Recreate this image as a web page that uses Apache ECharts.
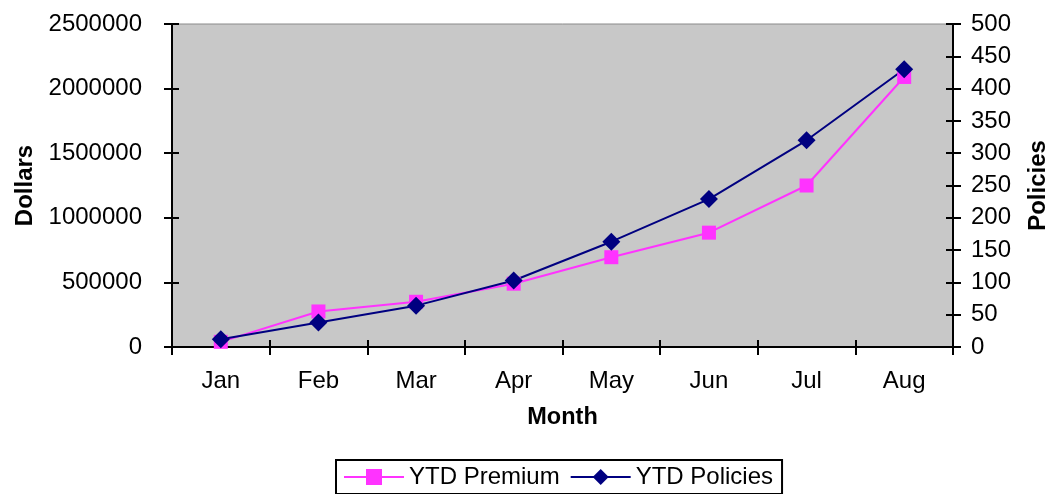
<!DOCTYPE html>
<html>
<head>
<meta charset="utf-8">
<script src="https://cdn.jsdelivr.net/npm/echarts@6/dist/echarts.min.js"></script>
<style>
html,body{margin:0;padding:0;background:#fff;}
#c{width:1061px;height:494px;}
</style>
</head>
<body>
<div id="c"></div>
<script>
const months = ['Jan','Feb','Mar','Apr','May','Jun','Jul','Aug'];
const ytdPremium = [40000, 275000, 350000, 490000, 695000, 885000, 1250000, 2090000];
const ytdPolicies = [12, 38, 64, 103, 163, 229, 320, 430];
const dollarTicks = {min: 0, max: 2500000, interval: 500000};
const policyTicks = {min: 0, max: 500, interval: 50};

const FONT = 'Arial, "Liberation Sans", sans-serif';
const chart = echarts.init(document.getElementById('c'), null, {renderer: 'canvas'});

function hiddenAxisBits() {
  return {axisLine: {show: false}, axisLabel: {show: false}, splitLine: {show: false}};
}
const plain = v => String(v);

chart.setOption({
  animation: false,
  backgroundColor: '#ffffff',
  textStyle: {fontFamily: FONT, color: '#000'},
  grid: {
    left: 172, right: 108, top: 24, bottom: 147,
    show: true, backgroundColor: '#C8C8C8', borderColor: '#8a8a8a', borderWidth: 1
  },
  legend: {
    left: 336, top: 460,
    padding: [5, 9, 5, 7],
    borderColor: '#000', borderWidth: 2,
    itemWidth: 60, itemHeight: 20, itemGap: 10,
    textStyle: {fontFamily: FONT, fontSize: 24, color: '#000'},
    data: ['YTD Premium', 'YTD Policies']
  },
  xAxis: [{
    type: 'category', data: months, boundaryGap: true,
    name: 'Month', nameLocation: 'middle', nameGap: 59,
    nameTextStyle: {fontFamily: FONT, fontSize: 23.5, fontWeight: 'bold', color: '#000'},
    axisLine: {lineStyle: {color: '#000', width: 2}},
    axisTick: {show: true, length: 8, lineStyle: {color: '#000', width: 2}},
    axisLabel: {fontFamily: FONT, fontSize: 24, color: '#000', margin: 22},
    splitLine: {show: false}
  }, Object.assign({
    type: 'category', data: months, boundaryGap: true, position: 'bottom',
    axisTick: {show: true, inside: true, length: 7, lineStyle: {color: '#000', width: 2}}
  }, hiddenAxisBits())],
  yAxis: [{
    type: 'value', position: 'left',
    min: dollarTicks.min, max: dollarTicks.max, interval: dollarTicks.interval,
    name: 'Dollars', nameLocation: 'middle', nameRotate: 90, nameGap: 133,
    nameTextStyle: {fontFamily: FONT, fontSize: 24, fontWeight: 'bold', color: '#000'},
    axisLine: {show: true, lineStyle: {color: '#000', width: 2}},
    axisTick: {show: true, length: 8, lineStyle: {color: '#000', width: 2}},
    axisLabel: {fontFamily: FONT, fontSize: 24, color: '#000', margin: 30, formatter: plain},
    splitLine: {show: false}
  }, {
    type: 'value', position: 'right',
    min: policyTicks.min, max: policyTicks.max, interval: policyTicks.interval,
    name: 'Policies', nameLocation: 'middle', nameRotate: 90, nameGap: 73,
    nameTextStyle: {fontFamily: FONT, fontSize: 24, fontWeight: 'bold', color: '#000'},
    axisLine: {show: true, lineStyle: {color: '#000', width: 2}},
    axisTick: {show: true, length: 8, lineStyle: {color: '#000', width: 2}},
    axisLabel: {fontFamily: FONT, fontSize: 24, color: '#000', margin: 18, formatter: plain},
    splitLine: {show: false}
  }, Object.assign({
    type: 'value', position: 'left',
    min: dollarTicks.min, max: dollarTicks.max, interval: dollarTicks.interval,
    axisTick: {show: true, inside: true, length: 7, lineStyle: {color: '#000', width: 2}}
  }, hiddenAxisBits()), Object.assign({
    type: 'value', position: 'right',
    min: policyTicks.min, max: policyTicks.max, interval: policyTicks.interval,
    axisTick: {show: true, inside: true, length: 7, lineStyle: {color: '#000', width: 2}}
  }, hiddenAxisBits())],
  series: [{
    name: 'YTD Premium', type: 'line', data: ytdPremium,
    xAxisIndex: 0, yAxisIndex: 0,
    symbol: 'rect', symbolSize: 14,
    lineStyle: {color: '#FF33FF', width: 2},
    itemStyle: {color: '#FF33FF'}
  }, {
    name: 'YTD Policies', type: 'line', data: ytdPolicies,
    xAxisIndex: 0, yAxisIndex: 1,
    symbol: 'diamond', symbolSize: 18,
    lineStyle: {color: '#000080', width: 2},
    itemStyle: {color: '#000080'}
  }]
});
</script>
</body>
</html>
